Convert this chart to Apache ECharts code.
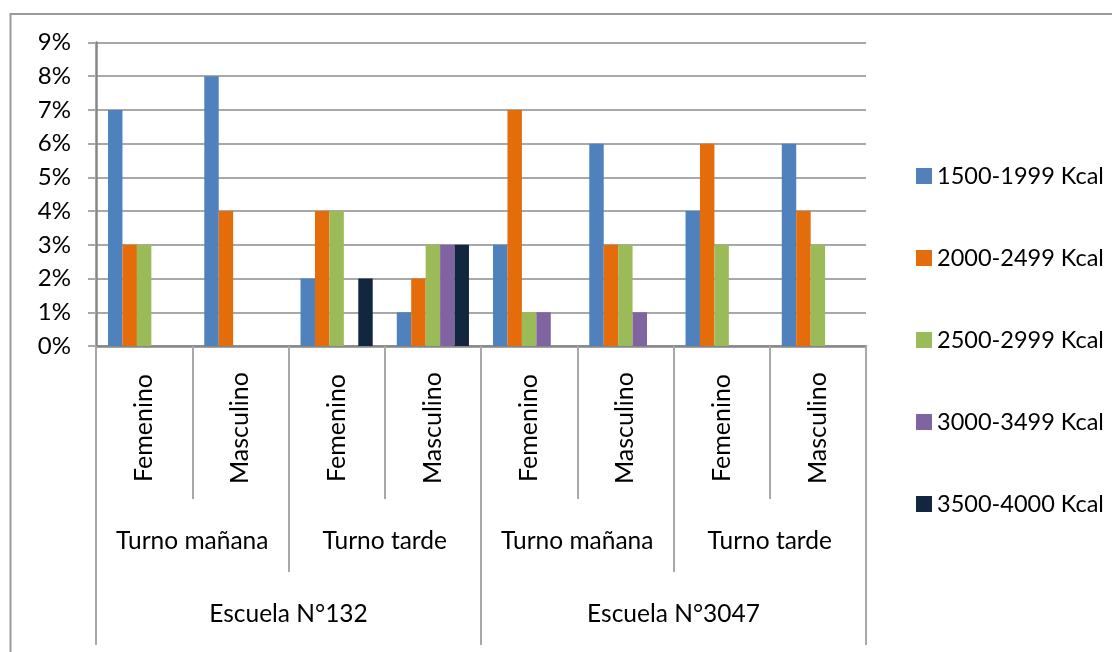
<!DOCTYPE html>
<html>
<head>
<meta charset="utf-8">
<script src="https://cdn.jsdelivr.net/npm/echarts@6/dist/echarts.min.js"></script>
<style>
  html, body { margin: 0; padding: 0; background: #fff; }
  #chart { width: 1112px; height: 652px; }
</style>
</head>
<body>
<div id="chart"></div>
<script>
// Bottom level: sex within each shift
const sexCategories = ['Femenino', 'Masculino', 'Femenino', 'Masculino', 'Femenino', 'Masculino', 'Femenino', 'Masculino'];
// Middle level: shift
const shiftCategories = ['Turno mañana', 'Turno tarde', 'Turno mañana', 'Turno tarde'];
// Top level: school
const schoolCategories = ['Escuela N°132', 'Escuela N°3047'];

// Percentage of students per caloric intake range
const seriesNames = ['1500-1999 Kcal', '2000-2499 Kcal', '2500-2999 Kcal', '3000-3499 Kcal', '3500-4000 Kcal'];
const kcal1500 = [7, 8, 2, 1, 3, 6, 4, 6];
const kcal2000 = [3, 4, 4, 2, 7, 3, 6, 4];
const kcal2500 = [3, 0, 4, 3, 1, 3, 3, 3];
const kcal3000 = [0, 0, 0, 3, 1, 1, 0, 0];
const kcal3500 = [0, 0, 2, 3, 0, 0, 0, 0];
const seriesValues = [kcal1500, kcal2000, kcal2500, kcal3000, kcal3500];
const seriesColors = ['#4f81bd', '#e46c0a', '#9bbb59', '#8064a2', '#12263f'];

const yTicks = { min: 0, max: 9, interval: 1 };

const FONT = 'Lato';
const GRID_LINE = '#a8a8a8';
const AXIS_LINE = '#878787';

const chart = echarts.init(document.getElementById('chart'), null, { renderer: 'canvas' });

function levelAxis(data, tickLength, labelOpts) {
  return Object.assign({
    type: 'category',
    data: data,
    gridIndex: 0,
    position: 'bottom',
    boundaryGap: true,
    axisLine: { show: false },
    axisTick: { show: true, interval: 0, length: tickLength, lineStyle: { color: GRID_LINE, width: 2 } },
    splitLine: { show: false }
  }, labelOpts);
}

chart.setOption({
  animation: false,
  backgroundColor: '#ffffff',
  textStyle: { fontFamily: FONT },
  grid: { left: 96, right: 246, top: 42.5, bottom: 306, containLabel: false },
  legend: {
    orient: 'vertical',
    left: 911,
    top: 159,
    itemWidth: 16,
    itemHeight: 16,
    itemGap: 58,
    icon: 'rect',
    data: seriesNames,
    textStyle: { fontFamily: FONT, fontSize: 23.5, color: '#000', lineHeight: 24 }
  },
  xAxis: [
    {
      type: 'category',
      data: sexCategories,
      position: 'bottom',
      axisLine: { show: true, lineStyle: { color: AXIS_LINE, width: 2.5 } },
      axisTick: { show: true, interval: 0, length: 153, lineStyle: { color: GRID_LINE, width: 2 } },
      axisLabel: {
        interval: 0, rotate: 90, align: 'center', verticalAlign: 'middle', margin: 82,
        fontFamily: FONT, fontSize: 25, color: '#000'
      }
    },
    levelAxis(shiftCategories, 226, {
      axisLabel: { interval: 0, margin: 182, fontFamily: FONT, fontSize: 24.5, color: '#000', lineHeight: 26 }
    }),
    levelAxis(schoolCategories, 299, {
      axisLabel: { interval: 0, margin: 255, fontFamily: FONT, fontSize: 24.5, color: '#000', lineHeight: 26 }
    })
  ],
  yAxis: {
    type: 'value',
    min: yTicks.min,
    max: yTicks.max,
    interval: yTicks.interval,
    axisLine: { show: true, lineStyle: { color: AXIS_LINE, width: 2.5 } },
    axisTick: { show: true, length: 8, lineStyle: { color: GRID_LINE, width: 2 } },
    splitLine: { show: true, lineStyle: { color: GRID_LINE, width: 2 } },
    axisLabel: { formatter: '{value}%', margin: 25, fontFamily: FONT, fontSize: 24, color: '#000' }
  },
  series: seriesNames.map((name, i) => ({
    name: name,
    type: 'bar',
    xAxisIndex: 0,
    data: seriesValues[i],
    barGap: '0%',
    barCategoryGap: '25%',
    itemStyle: { color: seriesColors[i] }
  })),
  graphic: [{
    type: 'rect',
    silent: true,
    shape: { x: 10.5, y: 14, width: 1200, height: 700 },
    style: { fill: 'none', stroke: '#9a9a9a', lineWidth: 2 }
  }]
});
</script>
</body>
</html>
